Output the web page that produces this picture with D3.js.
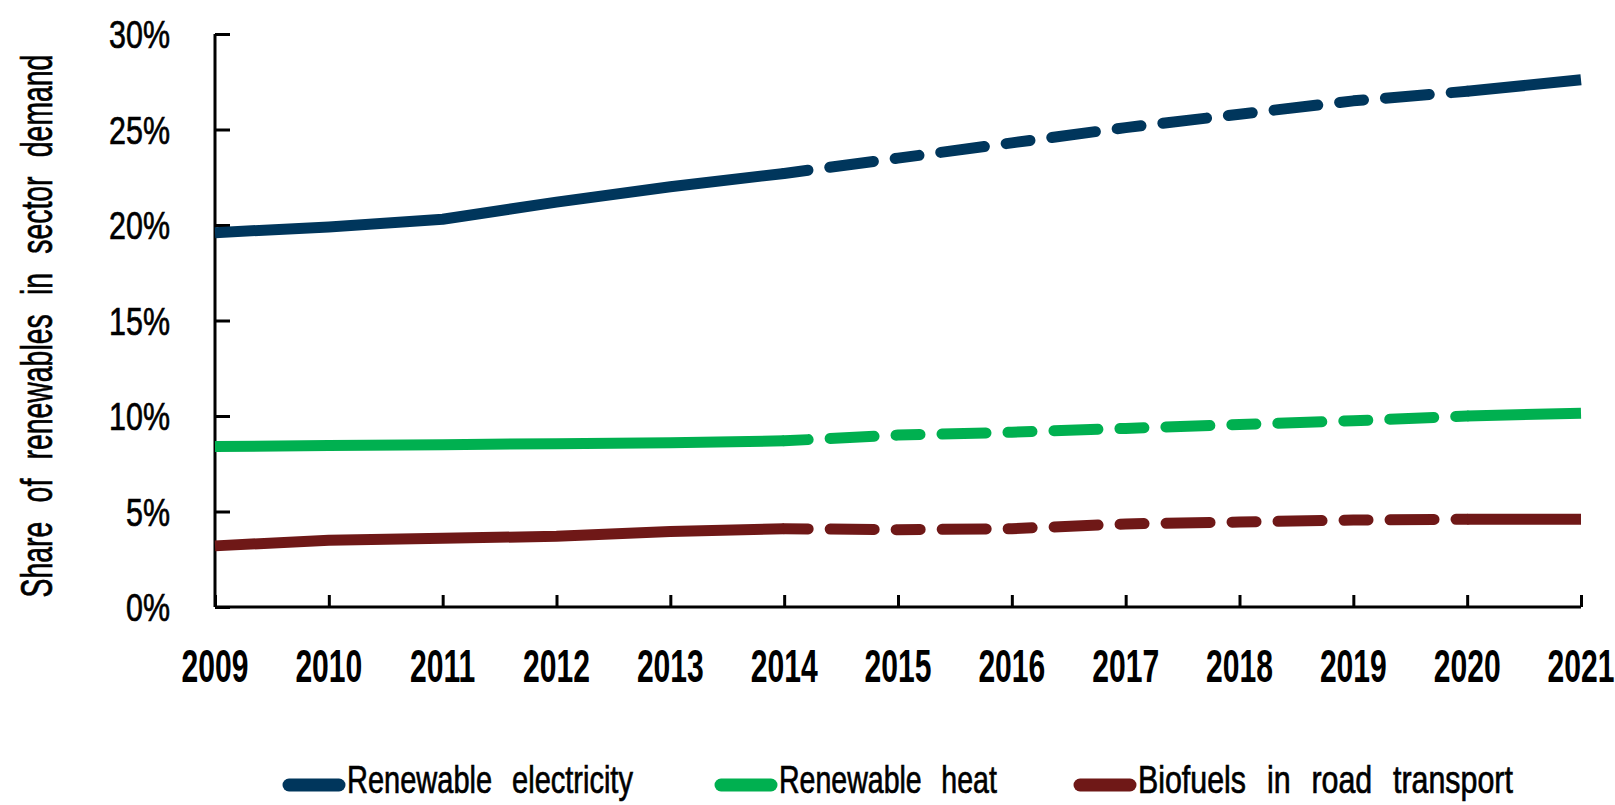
<!DOCTYPE html>
<html>
<head>
<meta charset="utf-8">
<script src="https://cdn.jsdelivr.net/npm/d3@7"></script>
<style>
  body { margin: 0; background: #fff; }
  text { font-family: "Liberation Sans", Arial, sans-serif; fill: #000; }
  text.heavy { stroke: #000; stroke-width: 0.7px; }
</style>
</head>
<body>
<div id="chart"></div>
<script>
// Data
var years = [2009, 2010, 2011, 2012, 2013, 2014, 2015, 2016, 2017, 2018, 2019, 2020, 2021];
var electricity = [19.6, 19.9, 20.3, 21.2, 22.0, 22.7, 23.5, 24.3, 25.1, 25.8, 26.5, 27.0, 27.6];
var heat = [8.4, 8.45, 8.5, 8.55, 8.6, 8.7, 9.0, 9.15, 9.35, 9.55, 9.75, 10.0, 10.15];
var biofuels = [3.2, 3.5, 3.6, 3.7, 3.95, 4.1, 4.05, 4.1, 4.35, 4.45, 4.55, 4.6, 4.6];
var seriesNames = ["Renewable electricity", "Renewable heat", "Biofuels in road transport"];
var yTicks = [0, 5, 10, 15, 20, 25, 30];
var dashFrom = 2014, dashTo = 2020;

var colors = ["#00365C", "#00B050", "#6F1817"];
var seriesValues = [electricity, heat, biofuels];

var width = 1615, height = 805;

var svg = d3.select("#chart")
  .append("svg")
    .attr("width", width)
    .attr("height", height);

var x = d3.scaleLinear().domain([2009, 2021]).range([215, 1581]);
var y = d3.scaleLinear().domain([0, 30]).range([607, 34]);

// squeeze a text horizontally so it looks like a condensed face
function condense(textSel, sx) {
  textSel.each(function() {
    var g = d3.select(this.parentNode);
    g.attr("transform", g.attr("transform") + " scale(" + sx + ",1)");
  });
}
// squeeze a text to a given width
function fitWidth(textSel, w) {
  textSel.each(function() {
    var len = this.getComputedTextLength();
    var g = d3.select(this.parentNode);
    g.attr("transform", g.attr("transform") + " scale(" + (w / len) + ",1)");
  });
}

// Y axis
var yAxis = svg.append("g")
    .attr("transform", "translate(215,0)")
    .call(d3.axisRight(y).tickValues(yTicks).tickSize(15).tickFormat(""));
yAxis.select(".domain").attr("d", "M0," + y(30) + "V" + y(0));
yAxis.selectAll("line, path").attr("stroke", "#000").attr("stroke-width", 3);

var yLab = svg.append("g").selectAll("g")
  .data(yTicks)
  .join("g")
    .attr("transform", function(d) { return "translate(170," + y(d) + ")"; })
  .append("text")
    .attr("class", "heavy")
    .attr("dy", "0.36em")
    .attr("text-anchor", "end")
    .style("font-size", "39px")
    .text(function(d) { return d + "%"; });
condense(yLab, 0.78);

// X axis
var xAxis = svg.append("g")
    .attr("transform", "translate(0," + y(0) + ")")
    .call(d3.axisTop(x).tickValues(years).tickSize(12).tickFormat(""));
xAxis.select(".domain").attr("d", "M" + x(2009) + ",0H" + x(2021));
xAxis.selectAll("line, path").attr("stroke", "#000").attr("stroke-width", 3);

var xLab = svg.append("g").selectAll("g")
  .data(years)
  .join("g")
    .attr("transform", function(d) { return "translate(" + x(d) + ",682)"; })
  .append("text")
    .attr("text-anchor", "middle")
    .style("font-size", "47px")
    .style("font-weight", "bold")
    .text(function(d) { return d; });
condense(xLab, 0.64);

// Y axis title
var title = svg.append("g")
    .attr("transform", "translate(52,326) rotate(-90)")
  .append("text")
    .attr("class", "heavy")
    .attr("text-anchor", "middle")
    .style("font-size", "45px")
    .style("word-spacing", "18px")
    .text("Share of renewables in sector demand");
fitWidth(title, 543);

// Lines: solid history, dashed outlook, solid last year
var line = d3.line()
    .x(function(d) { return x(d.year); })
    .y(function(d) { return y(d.value); });

seriesValues.forEach(function(vals, i) {
  var pts = years.map(function(yr, j) { return {year: yr, value: vals[j]}; });
  var parts = [
    {data: pts.filter(function(d) { return d.year <= dashFrom; }), dash: null},
    {data: pts.filter(function(d) { return d.year >= dashFrom && d.year <= dashTo; }), dash: "24 22 44 22"},
    {data: pts.filter(function(d) { return d.year >= dashTo; }), dash: null}
  ];
  parts.forEach(function(p) {
    svg.append("path")
      .datum(p.data)
      .attr("fill", "none")
      .attr("stroke", colors[i])
      .attr("stroke-width", 11)
      .attr("stroke-linecap", p.dash ? "round" : "butt")
      .attr("stroke-linejoin", "round")
      .attr("stroke-dasharray", p.dash)
      .attr("d", line);
  });
});

// Legend
var legendX = [283, 715, 1074];
var legendW = [286, 218, 375];
var legend = svg.append("g").selectAll("g")
  .data(seriesNames)
  .join("g")
    .attr("transform", function(d, i) { return "translate(" + legendX[i] + ",785)"; });

legend.append("line")
    .attr("x1", 6).attr("x2", 56)
    .attr("stroke", function(d, i) { return colors[i]; })
    .attr("stroke-width", 13)
    .attr("stroke-linecap", "round");

var legText = legend.append("g")
    .attr("transform", "translate(64,8)")
  .append("text")
    .attr("class", "heavy")
    .style("font-size", "39px")
    .style("word-spacing", "16px")
    .text(function(d) { return d; });
legText.each(function(d, i) {
  var len = this.getComputedTextLength();
  var g = d3.select(this.parentNode);
  g.attr("transform", g.attr("transform") + " scale(" + (legendW[i] / len) + ",1)");
});
</script>
</body>
</html>
